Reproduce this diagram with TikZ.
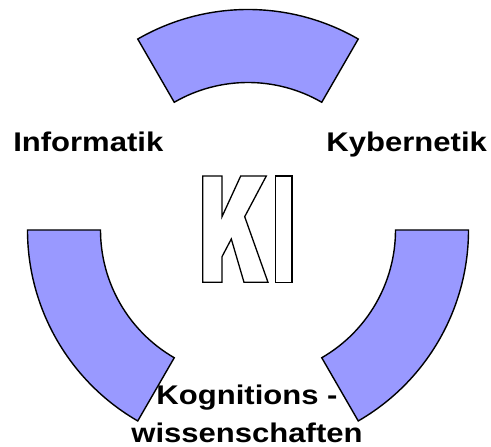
\documentclass[tikz,border=0pt]{standalone}
\usepackage{fontspec}
\newfontfamily\labfont[FakeStretch=1.15]{Liberation Sans}
\definecolor{ringfill}{HTML}{9999FF}
\begin{document}
\begin{tikzpicture}[x=1pt,y=1pt,
  sector/.style={fill=ringfill,draw=black,line width=1.4pt,line join=miter},
  letter/.style={fill=white,draw=black,line width=1.3pt,line join=miter},
  field/.style={font=\labfont\bfseries\fontsize{27}{38}\selectfont,inner sep=0pt,anchor=base}]
  \useasboundingbox (0,0) rectangle (491,447);
  \coordinate (c) at (248,217);
  \def\rin{147.5pt}
  \def\rout{220.5pt}
  % three ring sectors around the centre
  \foreach \a/\b in {60/120,180/240,300/360}{
    \draw[sector] ([shift={(c)}]\a:\rout) arc[start angle=\a,end angle=\b,radius=\rout]
      -- ([shift={(c)}]\b:\rin) arc[start angle=\b,end angle=\a,radius=\rin] -- cycle;
  }
  % outlined letters K and I in the middle
  \draw[letter] (202.7,271) -- (222,271) -- (222,230.3) -- (240.7,271) -- (266.3,271)
    -- (244.7,230.3) -- (268,164.7) -- (244,164.7) -- (231.3,208) -- (222,190.3)
    -- (222,164.7) -- (202.7,164.7) -- cycle;
  \draw[letter] (275.3,271) rectangle (292,164.7);
  % field labels
  \node[field] (inf) at (88.3,295.5) {Informatik};
  \node[field] (kyb) at (406.7,295.5) {Kybernetik};
  \node[field,align=center,anchor=base] (kog) at (247,4.5) {Kognitions -\\wissenschaften};
\end{tikzpicture}
\end{document}
